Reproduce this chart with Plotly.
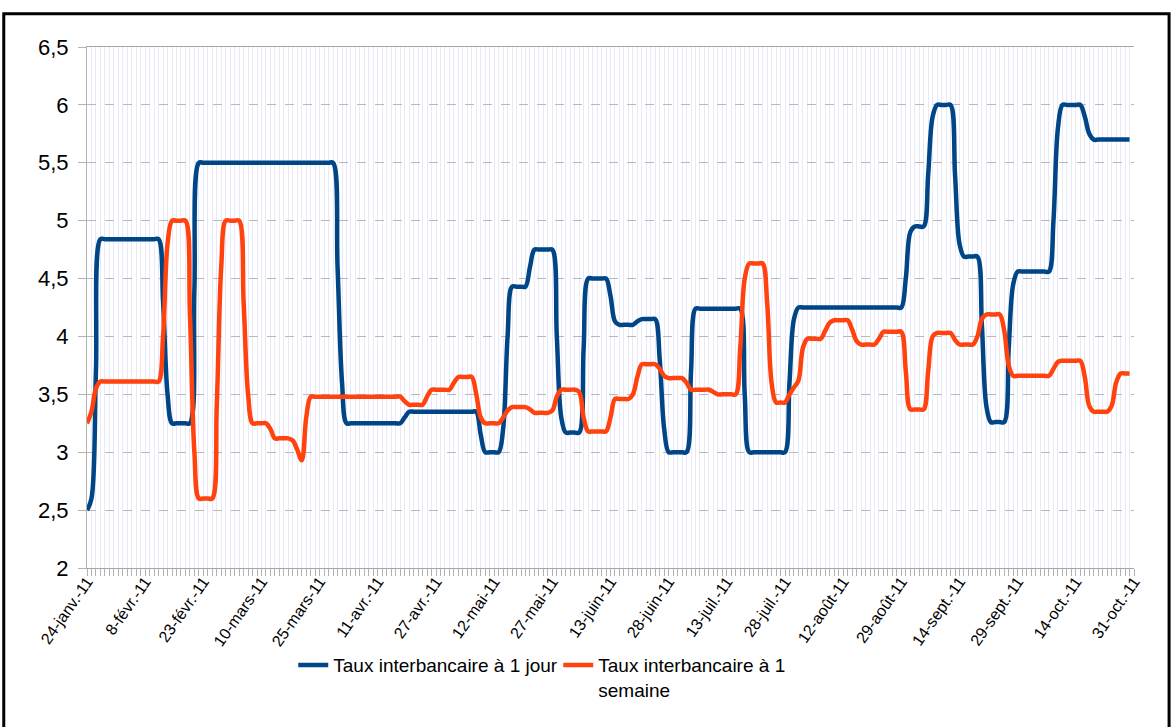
import plotly.graph_objects as go

# date labels shown on the category axis (one every 13 points)
date_labels = ["24-janv.-11", "8-févr.-11", "23-févr.-11", "10-mars-11", "25-mars-11",
               "11-avr.-11", "27-avr.-11", "12-mai-11", "27-mai-11", "13-juin-11",
               "28-juin-11", "13-juil.-11", "28-juil.-11", "12-août-11", "29-août-11",
               "14-sept.-11", "29-sept.-11", "14-oct.-11", "31-oct.-11"]
label_step = 13

# overnight rate: level and number of consecutive days at that level
jour_levels = [2.5, 2.6, 3.7, 4.84, 4.3, 3.5, 3.25, 4.4, 5.5, 4.6, 3.6, 3.25, 3.3, 3.35, 3.15,
               3.0, 3.2, 4.0, 4.43, 4.6, 4.75, 4.0, 3.3, 3.17, 3.9, 4.5, 4.35, 4.13, 4.1, 4.13,
               4.15, 3.8, 3.2, 3.0, 3.7, 4.24, 3.5, 3.0, 3.6, 4.15, 4.25, 4.5, 4.9, 4.95, 5.4,
               5.9, 6.0, 5.4, 4.8, 4.69, 4.1, 3.4, 3.26, 3.9, 4.45, 4.56, 5.0, 5.8, 6.0, 5.9,
               5.75, 5.7]
jour_days = [1, 1, 1, 14, 1, 1, 5, 1, 31, 1, 1, 13, 1, 16, 1,
             4, 1, 1, 4, 1, 5, 1, 1, 4, 1, 5, 1, 1, 4, 1,
             4, 1, 1, 5, 1, 11, 1, 9, 1, 1, 24, 1, 1, 3, 1,
             1, 4, 1, 1, 4, 1, 1, 4, 1, 1, 8, 1, 1, 5, 1,
             1, 9]

# one-week rate
semaine_levels = [3.25, 3.35, 3.55, 3.61, 4.0, 4.8, 5.0, 4.2, 3.0, 2.6, 3.4, 4.6, 5.0, 4.3, 3.5,
                  3.25, 3.2, 3.12, 3.1, 3.02, 2.93, 3.3, 3.48, 3.44, 3.41, 3.48, 3.54, 3.6, 3.65,
                  3.5, 3.3, 3.25, 3.3, 3.36, 3.39, 3.37, 3.34, 3.36, 3.48, 3.54, 3.52, 3.3, 3.18,
                  3.3, 3.46, 3.5, 3.65, 3.76, 3.72, 3.66, 3.64, 3.6, 3.54, 3.52, 3.5, 3.9, 4.5,
                  4.63, 4.3, 3.6, 3.43, 3.5, 3.56, 3.62, 3.9, 3.98, 4.05, 4.12, 4.14, 4.06, 3.96,
                  3.93, 3.98, 4.04, 3.7, 3.37, 3.7, 4.0, 4.03, 3.97, 3.93, 4.0, 4.15, 4.19, 4.05,
                  3.75, 3.66, 3.72, 3.78, 3.79, 3.65, 3.4, 3.35, 3.4, 3.6, 3.68]
semaine_days = [1, 1, 1, 14, 1, 1, 4, 1, 1, 4, 1, 1, 4, 1, 1,
                4, 1, 4, 1, 1, 1, 1, 21, 1, 4, 1, 5, 1, 4,
                1, 1, 4, 1, 1, 4, 1, 4, 1, 1, 4, 1, 1, 5,
                1, 4, 1, 1, 4, 1, 1, 4, 1, 5, 1, 5, 1, 1,
                4, 1, 1, 3, 1, 1, 1, 1, 4, 1, 1, 4, 1, 1,
                4, 1, 5, 1, 4, 1, 1, 4, 1, 4, 1, 1, 4, 1,
                1, 9, 1, 1, 5, 1, 1, 4, 1, 1, 3]


def expand(levels, days):
    out = []
    for v, n in zip(levels, days):
        out += [v] * n
    return out


jour = expand(jour_levels, jour_days)
semaine = expand(semaine_levels, semaine_days)
x = list(range(len(jour)))
n_cat = (len(date_labels) - 1) * label_step

fig = go.Figure()
fig.add_trace(go.Scatter(x=x, y=jour, name="Taux interbancaire à 1 jour", mode="lines",
                         line=dict(color="#004586", width=4.5, shape="spline", smoothing=1)))
fig.add_trace(go.Scatter(x=list(range(len(semaine))), y=semaine,
                         name="Taux interbancaire à 1<br>semaine", mode="lines",
                         line=dict(color="#ff420e", width=4.5, shape="spline", smoothing=1)))

fig.update_xaxes(range=[0, n_cat], automargin=False,
                 tickvals=[i * label_step for i in range(len(date_labels))],
                 ticktext=date_labels, tickangle=-55, ticklabelstandoff=-10,
                 tickfont=dict(family="Liberation Sans", size=16, color="#000000"),
                 showgrid=True, gridcolor="#e8e8fb", gridwidth=1,
                 ticks="outside", ticklen=7, tickcolor="#b3b3b3",
                 minor=dict(dtick=1, tick0=0, showgrid=True, gridcolor="#e8e8fb",
                            ticks="outside", ticklen=7, tickcolor="#b3b3b3"),
                 showline=True, linecolor="#a6a6a6", linewidth=1, mirror=True,
                 zeroline=False)
fig.update_yaxes(range=[2, 6.5], dtick=0.5, tick0=2, automargin=False,
                 tickfont=dict(family="Liberation Sans", size=22, color="#000000"),
                 ticklabelstandoff=5,
                 showgrid=True, gridcolor="#b8b8b8", griddash="dash", gridwidth=1,
                 ticks="outside", ticklen=8, tickcolor="#b3b3b3",
                 showline=True, linecolor="#b3b3b3", linewidth=1, zeroline=False)

fig.update_layout(
    width=1173, height=727,
    margin=dict(l=87, r=39, t=47, b=159),
    plot_bgcolor="white", paper_bgcolor="white",
    separators=", ",
    font=dict(family="Liberation Sans", color="#000000"),
    showlegend=True,
    legend=dict(orientation="h", x=0.197, y=-0.15, xanchor="left", yanchor="top",
                bgcolor="rgba(0,0,0,0)", entrywidth=220,
                font=dict(family="Liberation Sans", size=19, color="#000000"),
                valign="top", itemwidth=30, traceorder="normal"),
    shapes=[dict(type="rect", xref="paper", yref="paper",
                 x0=-0.0795, x1=1.0335, y0=-0.35, y1=1.064,
                 line=dict(color="black", width=3), fillcolor="rgba(0,0,0,0)", layer="above")],
)

# the page body has a default 8px margin; drop it so the figure sits at the window corner
fig.write_html("out.html", config={"displayModeBar": False},
               post_script="document.body.style.margin='0';")
